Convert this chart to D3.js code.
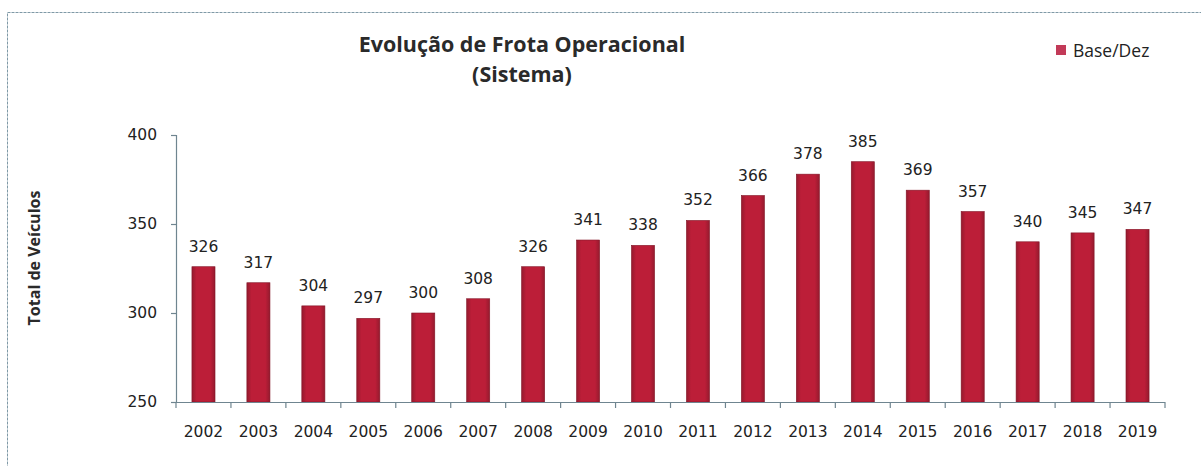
<!DOCTYPE html>
<html>
<head>
<meta charset="utf-8">
<script src="https://cdn.jsdelivr.net/npm/d3@7"></script>
<style>
  body { margin: 0; background: #fff; }
  svg { display: block; }
</style>
</head>
<body>
<div id="chart"></div>
<script>
var years  = ["2002","2003","2004","2005","2006","2007","2008","2009","2010","2011","2012","2013","2014","2015","2016","2017","2018","2019"];
var frota  = [326, 317, 304, 297, 300, 308, 326, 341, 338, 352, 366, 378, 385, 369, 357, 340, 345, 347];
var yTicks = [250, 300, 350, 400];
var seriesName = "Base/Dez";

var width = 1201, height = 466;
var plotLeft = 176, plotRight = 1165, plotTop = 135, plotBottom = 402;

var svg = d3.select("#chart").append("svg")
    .attr("width", width)
    .attr("height", height);

// gradient for the bars
var grad = svg.append("defs").append("linearGradient")
    .attr("id", "barGrad")
    .attr("x1", "0%").attr("x2", "100%");
grad.append("stop").attr("offset", "0%").attr("stop-color", "#951a2e");
grad.append("stop").attr("offset", "20%").attr("stop-color", "#bc1e38");
grad.append("stop").attr("offset", "80%").attr("stop-color", "#bc1e38");
grad.append("stop").attr("offset", "100%").attr("stop-color", "#951a2e");

// outer frame (runs off the right/bottom edge)
svg.append("rect")
    .attr("x", 7.5).attr("y", 12.5)
    .attr("width", 1210).attr("height", 470)
    .attr("fill", "none")
    .attr("stroke", "#7f99a6")
    .attr("stroke-width", 1)
    .style("stroke-dasharray", "3, 1");

var x = d3.scaleBand()
    .domain(years)
    .range([plotLeft, plotRight])
    .paddingInner(0.58)
    .paddingOuter(0.29);

var y = d3.scaleLinear()
    .domain([250, 400])
    .range([plotBottom, plotTop]);

var data = years.map(function (d, i) { return {year: d, v: frota[i]}; });

svg.selectAll("rect.bar")
    .data(data)
    .enter()
    .append("rect")
    .attr("class", "bar")
    .attr("x", function (d) { return x(d.year); })
    .attr("y", function (d) { return y(d.v); })
    .attr("width", x.bandwidth())
    .attr("height", function (d) { return plotBottom - y(d.v); })
    .attr("fill", "url(#barGrad)")
    .attr("stroke", "#821426")
    .attr("stroke-width", 0.6);

svg.selectAll("text.val")
    .data(data)
    .enter()
    .append("text")
    .attr("class", "val")
    .attr("x", function (d) { return x(d.year) + x.bandwidth() / 2; })
    .attr("y", function (d) { return y(d.v) - 15; })
    .attr("text-anchor", "middle")
    .attr("font-family", "DejaVu Sans")
    .attr("font-size", 15.5)
    .attr("fill", "#222")
    .text(function (d) { return d.v; });

// y axis
var yAxis = svg.append("g")
    .attr("transform", "translate(" + plotLeft + ",0)")
    .call(d3.axisLeft(y).tickValues(yTicks).tickSize(5).tickPadding(14));
yAxis.selectAll("text")
    .attr("font-family", "DejaVu Sans")
    .attr("font-size", 15.5)
    .attr("fill", "#222");

// x axis: ticks between categories, like the spreadsheet chart
var step = x.step();
var xAxisG = svg.append("g")
    .attr("transform", "translate(0," + plotBottom + ")");
xAxisG.append("line")
    .attr("x1", plotLeft).attr("x2", plotRight)
    .attr("y1", 0.5).attr("y2", 0.5);
xAxisG.selectAll("line.tk")
    .data(d3.range(years.length + 1))
    .enter()
    .append("line")
    .attr("class", "tk")
    .attr("x1", function (i) { return plotLeft + i * step; })
    .attr("x2", function (i) { return plotLeft + i * step; })
    .attr("y1", 0).attr("y2", 6);
xAxisG.selectAll("text")
    .data(years)
    .enter()
    .append("text")
    .attr("x", function (d) { return x(d) + x.bandwidth() / 2; })
    .attr("y", 35)
    .attr("text-anchor", "middle")
    .attr("font-family", "DejaVu Sans")
    .attr("font-size", 15.5)
    .attr("fill", "#222")
    .text(function (d) { return d; });

svg.selectAll(".domain, .tick line, g line")
    .attr("stroke", "#6f8590")
    .attr("stroke-width", 1.2);
yAxis.select(".domain").attr("d", "M-5," + plotTop + ".5H0.5V" + plotBottom + ".5H-5");

// title
svg.append("text")
    .attr("x", 522).attr("y", 52)
    .attr("text-anchor", "middle")
    .attr("font-family", "Open Sans")
    .attr("font-weight", "bold")
    .attr("font-size", 21.5)
    .attr("fill", "#2a2a2a")
    .text("Evolução de Frota Operacional");
svg.append("text")
    .attr("x", 522).attr("y", 82)
    .attr("text-anchor", "middle")
    .attr("font-family", "Open Sans")
    .attr("font-weight", "bold")
    .attr("font-size", 21.5)
    .attr("fill", "#2a2a2a")
    .text("(Sistema)");

// y label
svg.append("text")
    .attr("transform", "translate(40,258) rotate(-90)")
    .attr("text-anchor", "middle")
    .attr("font-family", "Open Sans")
    .attr("font-weight", "bold")
    .attr("font-size", 16)
    .attr("fill", "#2a2a2a")
    .text("Total  de Veículos");

// legend
svg.append("rect")
    .attr("x", 1056).attr("y", 45)
    .attr("width", 10).attr("height", 10)
    .attr("fill", "#c23a58");
svg.append("text")
    .attr("x", 1073).attr("y", 57)
    .attr("font-family", "Open Sans")
    .attr("font-size", 17.5)
    .attr("fill", "#222")
    .text(seriesName);
</script>
</body>
</html>
